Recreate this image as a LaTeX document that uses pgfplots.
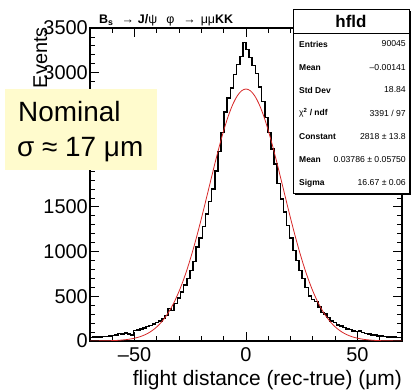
\documentclass[border=0pt]{standalone}
\usepackage{pgfplots}
\pgfplotsset{compat=1.18}
\usepackage{fontspec}
\setmainfont{Liberation Sans}
\definecolor{notebg}{RGB}{255,251,205}
\definecolor{fitred}{RGB}{215,40,40}
\begin{document}
\begin{tikzpicture}
\path[use as bounding box] (0,0) rectangle (412bp,390bp);
\begin{axis}[
  at={(90bp,49bp)}, anchor=south west,
  scale only axis, width=312bp, height=313bp,
  xmin=-70, xmax=70, ymin=0, ymax=3500,
  xtick={-50,0,50}, xticklabels={\textendash50,0,50},
  minor xtick={-60,-40,-30,-20,-10,10,20,30,40,60},
  ytick={0,500,...,3500},
  yticklabels={0,500,1000,1500,,,3000,3500},
  minor ytick={100,200,...,3400},
  scaled y ticks=false,
  tick align=inside, tick pos=both, ticklabel pos=left,
  major tick length=9bp, minor tick length=5bp,
  every tick/.style={black, line width=0.8bp},
  axis line style={line width=1.2bp},
  tick label style={font=\fontsize{20}{20}\selectfont},
  yticklabel style={inner sep=0pt, xshift=-2bp},
  xticklabel style={inner sep=0pt, yshift=-6bp},
  /pgf/number format/assume math mode=true,
  /pgf/number format/1000 sep={},
]
\addplot[const plot, black, line width=1.6bp] table[x=x, y=y] {
x y
-70.0 40
-68.6 42
-67.2 45
-65.8 44
-64.4 50
-63.0 52
-61.6 58
-60.2 62
-58.8 70
-57.4 85
-56.0 80
-54.6 90
-53.2 78
-51.8 70
-50.4 118
-49.0 125
-47.6 135
-46.2 148
-44.8 162
-43.4 175
-42.0 190
-40.6 205
-39.2 225
-37.8 250
-36.4 285
-35.0 365
-33.6 340
-32.2 420
-30.8 480
-29.4 545
-28.0 625
-26.6 700
-25.2 790
-23.8 890
-22.4 1050
-21.0 1150
-19.6 1280
-18.2 1420
-16.8 1560
-15.4 1700
-14.0 1900
-12.6 2120
-11.2 2330
-9.8 2560
-8.4 2720
-7.0 2830
-5.6 2980
-4.2 3090
-2.8 3180
-1.4 3340
0.0 3260
1.4 3170
2.8 3080
4.2 2990
5.6 2840
7.0 2680
8.4 2500
9.8 2330
11.2 2150
12.6 1980
14.0 1760
15.4 1590
16.8 1440
18.2 1290
19.6 1150
21.0 1010
22.4 900
23.8 790
25.2 700
26.6 600
28.0 500
29.4 465
30.8 440
32.2 380
33.6 320
35.0 300
36.4 265
37.8 225
39.2 205
40.6 180
42.0 165
43.4 150
44.8 135
46.2 130
47.6 115
49.0 105
50.4 110
51.8 95
53.2 85
54.6 75
56.0 70
57.4 65
58.8 58
60.2 55
61.6 52
63.0 48
64.4 45
65.8 42
67.2 40
68.6 38
70.0 38
};
\addplot[fitred, line width=0.8bp, smooth] coordinates {
(-70,0.4) (-68,0.7) (-66,1.1) (-64,1.8) (-62,2.8) (-60,4.3) (-58,6.6) (-56,10)
(-54,14.8) (-52,21.7) (-50,31.4) (-48,44.6) (-46,62.6) (-44,86.5) (-42,117.9)
(-40,158.4) (-38,209.7) (-36,273.7) (-34,352) (-32,446.4) (-30,558.1) (-28,687.6)
(-26,835.1) (-24,999.7) (-22,1179.6) (-20,1372) (-18,1573.1) (-16,1777.9)
(-14,1980.6) (-12,2174.7) (-10,2354) (-8,2511.5) (-6,2641.3) (-4,2738)
(-2,2797.8) (0,2818) (2,2797.8) (4,2738) (6,2641.3) (8,2511.5) (10,2354)
(12,2174.7) (14,1980.6) (16,1777.9) (18,1573.1) (20,1372) (22,1179.6) (24,999.7)
(26,835.1) (28,687.6) (30,558.1) (32,446.4) (34,352) (36,273.7) (38,209.7)
(40,158.4) (42,117.9) (44,86.5) (46,62.6) (48,44.6) (50,31.4) (52,21.7)
(54,14.8) (56,10) (58,6.6) (60,4.3) (62,2.8) (64,1.8) (66,1.1) (68,0.7) (70,0.4)
};
\end{axis}
% title
\node[anchor=base west, inner sep=0, font=\bfseries\fontsize{12.5}{12.5}\selectfont]
  at (99bp,366bp) {B\textsubscript{s}\hspace{8bp}→\hspace{4bp}J/\textmd{ψ}\hspace{9bp}\textmd{φ}\hspace{9bp}→\hspace{5bp}\textmd{μμ}KK};
% y label
\node[rotate=90, anchor=base east, inner sep=0, font=\fontsize{20}{20}\selectfont]
  at (47bp,363bp) {Events};
% x label
\node[anchor=base east, inner sep=0, font=\fontsize{21}{21}\selectfont]
  at (402bp,5bp) {flight distance (rec-true) (μm)};
% stats box
\fill[black] (295bp,195bp) rectangle (411bp,379bp);
\draw[fill=white, line width=0.8bp] (293bp,197bp) rectangle (409bp,381bp);
\draw[line width=0.8bp] (293bp,357bp) -- (409bp,357bp);
\node[font=\bfseries\fontsize{17}{17}\selectfont, inner sep=0] at (351bp,369bp) {hfld};
\begin{scope}[every node/.style={inner sep=0, font=\fontsize{8.7}{8.7}\selectfont}]
\node[anchor=west, font=\bfseries\fontsize{8.5}{8.5}\selectfont] at (299bp,346bp) {Entries};
\node[anchor=east] at (406bp,346bp) {90045};
\node[anchor=west, font=\bfseries\fontsize{8.5}{8.5}\selectfont] at (299bp,322bp) {Mean};
\node[anchor=east] at (406bp,322bp) {\textendash0.00141};
\node[anchor=west, font=\bfseries\fontsize{8.5}{8.5}\selectfont] at (299bp,300bp) {Std Dev};
\node[anchor=east] at (406bp,300bp) {18.84};
\node[anchor=west, font=\bfseries\fontsize{8.5}{8.5}\selectfont] at (299bp,277bp) {\textmd{χ}\textsuperscript{2} / ndf};
\node[anchor=east] at (406bp,277bp) {3391 / 97};
\node[anchor=west, font=\bfseries\fontsize{8.5}{8.5}\selectfont] at (299bp,253bp) {Constant};
\node[anchor=east] at (406bp,253bp) {2818 ± 13.8};
\node[anchor=west, font=\bfseries\fontsize{8.5}{8.5}\selectfont] at (299bp,230bp) {Mean};
\node[anchor=east] at (406bp,230bp) {0.03786 ± 0.05750};
\node[anchor=west, font=\bfseries\fontsize{8.5}{8.5}\selectfont] at (299bp,207bp) {Sigma};
\node[anchor=east] at (406bp,207bp) {16.67 ± 0.06};
\end{scope}
% yellow note
\fill[notebg] (5bp,220bp) rectangle (157bp,301bp);
\node[anchor=base west, inner sep=0, font=\fontsize{28}{28}\selectfont] at (18bp,268bp) {Nominal};
\node[anchor=base west, inner sep=0, font=\fontsize{28}{28}\selectfont] at (17bp,233bp) {σ ≈ 17 μm};
\end{tikzpicture}
\end{document}
